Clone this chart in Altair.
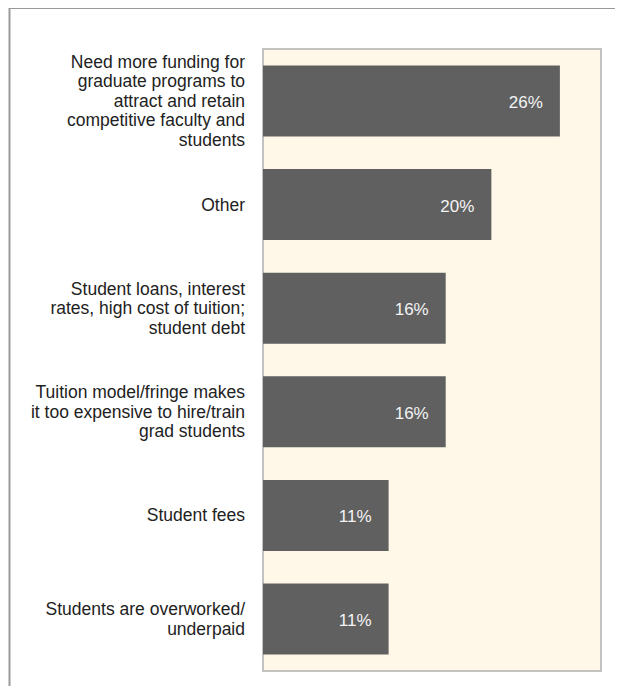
import altair as alt
import pandas as pd

categories = [
    "Need more funding for|graduate programs to|attract and retain|competitive faculty and|students",
    "Other",
    "Student loans, interest|rates, high cost of tuition;|student debt",
    "Tuition model/fringe makes|it too expensive to hire/train|grad students",
    "Student fees",
    "Students are overworked/|underpaid",
]
values = [26, 20, 16, 16, 11, 11]
labels = ["26%", "20%", "16%", "16%", "11%", "11%"]

df = pd.DataFrame({"category": categories, "value": values, "label": labels})

FONT = "Liberation Sans"
LINE_H = 19.5
HALF_BAND = 36.5

y_enc = alt.Y(
    "category:N",
    sort=None,
    scale=alt.Scale(paddingInner=0.315, paddingOuter=0.158),
    axis=None,
)
x_enc = alt.X("value:Q", axis=None, scale=alt.Scale(domain=[0, 29.6], nice=False, zero=True))

base = alt.Chart(df)

bars = base.mark_bar(color="#606060").encode(x=x_enc, y=y_enc)

text = base.mark_text(
    align="right", baseline="middle", dx=-17, dy=2,
    color="#f4f4f4", font=FONT, fontSize=17,
).encode(x=x_enc, y=alt.Y("category:N", sort=None), text="label:N")

cat_labels = (
    base.transform_calculate(
        off=f"{HALF_BAND} - (length(split(datum.category, '|')) - 1) * {LINE_H} / 2",
    )
    .mark_text(
        align="right", baseline="middle", font=FONT, fontSize=17.5,
        lineHeight=LINE_H, lineBreak="|", color="#222222",
    )
    .encode(
        x=alt.value(-18),
        y=alt.Y("category:N", sort=None),
        yOffset=alt.YOffset("off:Q", scale=None),
        text="category:N",
    )
)

frame_data = alt.Data(values=[{"k": 1}])
frame_v = alt.Chart(frame_data).mark_rule(color="#9a9a9a", strokeWidth=2).encode(
    x=alt.value(-253.5), y=alt.value(-41), y2=alt.value(700)
)
frame_h = alt.Chart(frame_data).mark_rule(color="#9a9a9a", strokeWidth=2).encode(
    x=alt.value(-253.5), x2=alt.value(400), y=alt.value(-41)
)

chart = (
    alt.layer(bars, text, cat_labels, frame_v, frame_h)
    .properties(
        width=338,
        height=622,
        autosize=alt.AutoSizeParams(type="none"),
        padding={"left": 255, "top": 41, "right": 14, "bottom": 15},
        background="white",
    )
    .configure_view(fill="#FFF8E8", stroke="#b0b0b0", strokeWidth=1.5)
)

chart.save("out.html", embed_options={"renderer": "svg", "actions": False})
